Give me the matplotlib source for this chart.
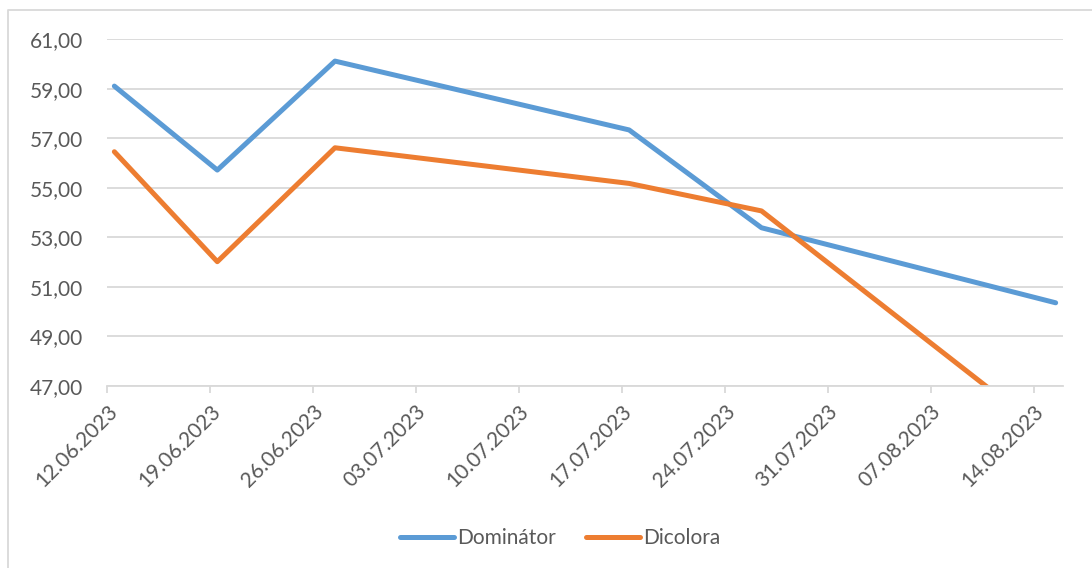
import matplotlib
matplotlib.use("Agg")
import matplotlib.pyplot as plt
import pandas as pd
from matplotlib.lines import Line2D

plt.rcParams['font.family'] = ['Lato', 'DejaVu Sans']

# data (Excel date axis, weekly ticks)
dates = ['2023-06-12', '2023-06-19', '2023-06-27', '2023-07-17', '2023-07-26', '2023-08-15']
dominator = [59.11, 55.72, 60.12, 57.34, 53.39, 50.36]
dicolora = [56.46, 52.02, 56.62, 55.18, 54.07, 44.80]
tick_dates = pd.date_range('2023-06-12', '2023-08-14', freq='7D')

# Excel puts each point in the middle of its day slot
x = pd.to_datetime(dates) + pd.Timedelta(hours=12)

fig = plt.figure(figsize=(10.92, 5.68), dpi=100)
ax = fig.add_axes([107 / 1092, 1 - 386 / 568, (1063 - 107) / 1092, (386 - 39.3) / 568])

blue = '#5B9BD5'
orange = '#ED7D31'
gray = '#595959'
grid = '#D9D9D9'

ax.plot(x, dominator, color=blue, lw=3.6, solid_joinstyle='round', solid_capstyle='round', label='Dominátor')
ax.plot(x, dicolora, color=orange, lw=3.6, solid_joinstyle='round', solid_capstyle='round', label='Dicolora')

ax.set_ylim(47, 61)
ax.set_yticks(range(47, 62, 2))
ax.set_yticklabels([f'{v},00' for v in range(47, 62, 2)])
ax.set_xlim(pd.Timestamp('2023-06-12'), pd.Timestamp('2023-08-16'))
ax.set_xticks(tick_dates)
ax.set_xticklabels([d.strftime('%d.%m.%Y') for d in tick_dates], rotation=45,
                   ha='right', va='top', rotation_mode='anchor')

ax.grid(axis='y', color=grid, lw=1.3)
ax.set_axisbelow(True)
for s in ['top', 'right', 'left']:
    ax.spines[s].set_visible(False)
ax.spines['bottom'].set_color(grid)
ax.spines['bottom'].set_linewidth(1.3)
ax.tick_params(axis='y', length=0, pad=17, labelsize=15, labelcolor=gray)
ax.tick_params(axis='x', length=5, width=1.3, color=grid, pad=6, labelsize=15, labelcolor=gray)

handles = [Line2D([], [], color=blue, lw=3.6, solid_capstyle='round'),
           Line2D([], [], color=orange, lw=3.6, solid_capstyle='round')]
leg = fig.legend(handles, ['Dominátor', 'Dicolora'], loc='center', bbox_to_anchor=(0.513, 1 - 538 / 568),
                 ncol=2, frameon=False, fontsize=15, handlelength=2.6, handletextpad=0.15, columnspacing=1.4)
for t in leg.get_texts():
    t.set_color(gray)

# chart area border (top and left visible)
fig.add_artist(Line2D([8 / 1092, 8 / 1092, 1], [0, 1 - 10 / 568, 1 - 10 / 568],
                      transform=fig.transFigure, color=grid, lw=1.3))

fig.savefig('out.png', dpi=100)
